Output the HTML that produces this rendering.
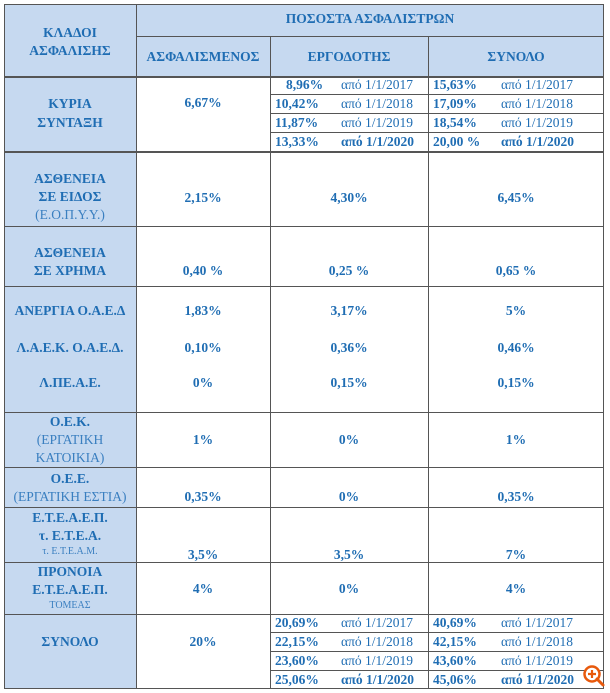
<!DOCTYPE html>
<html><head><meta charset="utf-8"><style>
body{margin:0;background:#fff;width:610px;height:693px;position:relative;overflow:hidden;font-family:"Liberation Serif","DejaVu Serif",serif;}
.f{position:absolute;background:#c6d9f0;}
.h{position:absolute;background:#555;}
.t{position:absolute;color:#1f6db3;font-weight:bold;font-size:13.5px;line-height:14px;white-space:nowrap;}
.c{text-align:center;}
.n{font-weight:normal;}
.s{font-size:10px;font-weight:normal;}
.g{color:#3a7fc0;}
</style></head><body>
<div class="f" style="left:4px;top:4px;width:600px;height:72px"></div>
<div class="f" style="left:4px;top:76px;width:132px;height:612px"></div>

<div class="h" style="left:4px;top:4px;width:600px;height:1px"></div>
<div class="h" style="left:136px;top:36px;width:468px;height:1px"></div>
<div class="h" style="left:4px;top:76px;width:600px;height:2px"></div>
<div class="h" style="left:270px;top:94px;width:334px;height:1px"></div>
<div class="h" style="left:270px;top:113px;width:334px;height:1px"></div>
<div class="h" style="left:270px;top:132px;width:334px;height:1px"></div>
<div class="h" style="left:4px;top:151px;width:600px;height:2px"></div>
<div class="h" style="left:4px;top:226px;width:600px;height:1px"></div>
<div class="h" style="left:4px;top:286px;width:600px;height:1px"></div>
<div class="h" style="left:4px;top:412px;width:600px;height:1px"></div>
<div class="h" style="left:4px;top:467px;width:600px;height:1px"></div>
<div class="h" style="left:4px;top:507px;width:600px;height:1px"></div>
<div class="h" style="left:4px;top:562px;width:600px;height:1px"></div>
<div class="h" style="left:4px;top:614px;width:600px;height:1px"></div>
<div class="h" style="left:270px;top:632px;width:334px;height:1px"></div>
<div class="h" style="left:270px;top:651px;width:334px;height:1px"></div>
<div class="h" style="left:270px;top:670px;width:334px;height:1px"></div>
<div class="h" style="left:4px;top:688px;width:600px;height:1px"></div>
<div class="h" style="left:4px;top:4px;width:1px;height:685px"></div>
<div class="h" style="left:136px;top:4px;width:1px;height:685px"></div>
<div class="h" style="left:270px;top:36px;width:1px;height:653px"></div>
<div class="h" style="left:428px;top:36px;width:1px;height:653px"></div>
<div class="h" style="left:603px;top:4px;width:1px;height:685px"></div>

<div class="t c" style="left:136px;top:12px;width:468px">ΠΟΣΟΣΤΑ ΑΣΦΑΛΙΣΤΡΩΝ</div>
<div class="t c" style="left:4px;top:26px;width:132px">ΚΛΑΔΟΙ</div>
<div class="t c" style="left:4px;top:44px;width:132px">ΑΣΦΑΛΙΣΗΣ</div>
<div class="t c" style="left:136px;top:50px;width:134px">ΑΣΦΑΛΙΣΜΕΝΟΣ</div>
<div class="t c" style="left:270px;top:50px;width:158px">ΕΡΓΟΔΟΤΗΣ</div>
<div class="t c" style="left:428px;top:50px;width:176px">ΣΥΝΟΛΟ</div>

<div class="t c" style="left:4px;top:97px;width:132px">ΚΥΡΙΑ</div>
<div class="t c" style="left:4px;top:116px;width:132px">ΣΥΝΤΑΞΗ</div>
<div class="t c" style="left:136px;top:96px;width:134px">6,67%</div>
<div class="t" style="left:286px;top:78px">8,96%</div><div class="t n" style="left:341px;top:78px">από 1/1/2017</div>
<div class="t" style="left:275px;top:97px">10,42%</div><div class="t n" style="left:341px;top:97px">από 1/1/2018</div>
<div class="t" style="left:275px;top:116px">11,87%</div><div class="t n" style="left:341px;top:116px">από 1/1/2019</div>
<div class="t" style="left:275px;top:135px">13,33%</div><div class="t" style="left:341px;top:135px">από 1/1/2020</div>
<div class="t" style="left:433px;top:78px">15,63%</div><div class="t n" style="left:501px;top:78px">από 1/1/2017</div>
<div class="t" style="left:433px;top:97px">17,09%</div><div class="t n" style="left:501px;top:97px">από 1/1/2018</div>
<div class="t" style="left:433px;top:116px">18,54%</div><div class="t n" style="left:501px;top:116px">από 1/1/2019</div>
<div class="t" style="left:433px;top:135px">20,00 %</div><div class="t" style="left:501px;top:135px">από 1/1/2020</div>

<div class="t c" style="left:4px;top:172px;width:132px">ΑΣΘΕΝΕΙΑ</div>
<div class="t c" style="left:4px;top:190px;width:132px">ΣΕ ΕΙΔΟΣ</div>
<div class="t c n g" style="left:4px;top:208px;width:132px">(Ε.Ο.Π.Υ.Υ.)</div>
<div class="t c" style="left:136px;top:191px;width:134px">2,15%</div>
<div class="t c" style="left:270px;top:191px;width:158px">4,30%</div>
<div class="t c" style="left:428px;top:191px;width:176px">6,45%</div>

<div class="t c" style="left:4px;top:246px;width:132px">ΑΣΘΕΝΕΙΑ</div>
<div class="t c" style="left:4px;top:264px;width:132px">ΣΕ ΧΡΗΜΑ</div>
<div class="t c" style="left:136px;top:264px;width:134px">0,40 %</div>
<div class="t c" style="left:270px;top:264px;width:158px">0,25 %</div>
<div class="t c" style="left:428px;top:264px;width:176px">0,65 %</div>

<div class="t c" style="left:4px;top:304px;width:132px">ΑΝΕΡΓΙΑ Ο.Α.Ε.Δ</div>
<div class="t c" style="left:136px;top:304px;width:134px">1,83%</div>
<div class="t c" style="left:270px;top:304px;width:158px">3,17%</div>
<div class="t c" style="left:428px;top:304px;width:176px">5%</div>
<div class="t c" style="left:4px;top:341px;width:132px">Λ.Α.Ε.Κ. Ο.Α.Ε.Δ.</div>
<div class="t c" style="left:136px;top:341px;width:134px">0,10%</div>
<div class="t c" style="left:270px;top:341px;width:158px">0,36%</div>
<div class="t c" style="left:428px;top:341px;width:176px">0,46%</div>
<div class="t c" style="left:4px;top:376px;width:132px">Λ.ΠΕ.Α.Ε.</div>
<div class="t c" style="left:136px;top:376px;width:134px">0%</div>
<div class="t c" style="left:270px;top:376px;width:158px">0,15%</div>
<div class="t c" style="left:428px;top:376px;width:176px">0,15%</div>

<div class="t c" style="left:4px;top:415px;width:132px">Ο.Ε.Κ.</div>
<div class="t c n g" style="left:4px;top:433px;width:132px">(ΕΡΓΑΤΙΚΗ</div>
<div class="t c n g" style="left:4px;top:451px;width:132px">ΚΑΤΟΙΚΙΑ)</div>
<div class="t c" style="left:136px;top:433px;width:134px">1%</div>
<div class="t c" style="left:270px;top:433px;width:158px">0%</div>
<div class="t c" style="left:428px;top:433px;width:176px">1%</div>

<div class="t c" style="left:4px;top:472px;width:132px">Ο.Ε.Ε.</div>
<div class="t c n g" style="left:4px;top:490px;width:132px">(ΕΡΓΑΤΙΚΗ ΕΣΤΙΑ)</div>
<div class="t c" style="left:136px;top:490px;width:134px">0,35%</div>
<div class="t c" style="left:270px;top:490px;width:158px">0%</div>
<div class="t c" style="left:428px;top:490px;width:176px">0,35%</div>

<div class="t c" style="left:4px;top:511px;width:132px">Ε.Τ.Ε.Α.Ε.Π.</div>
<div class="t c" style="left:4px;top:529px;width:132px">τ. Ε.Τ.Ε.Α.</div>
<div class="t c s g" style="left:4px;top:545px;width:132px">τ. Ε.Τ.Ε.Α.Μ.</div>
<div class="t c" style="left:136px;top:548px;width:134px">3,5%</div>
<div class="t c" style="left:270px;top:548px;width:158px">3,5%</div>
<div class="t c" style="left:428px;top:548px;width:176px">7%</div>

<div class="t c" style="left:4px;top:565px;width:132px">ΠΡΟΝΟΙΑ</div>
<div class="t c" style="left:4px;top:583px;width:132px">Ε.Τ.Ε.Α.Ε.Π.</div>
<div class="t c s g" style="left:4px;top:599px;width:132px">ΤΟΜΕΑΣ</div>
<div class="t c" style="left:136px;top:582px;width:134px">4%</div>
<div class="t c" style="left:270px;top:582px;width:158px">0%</div>
<div class="t c" style="left:428px;top:582px;width:176px">4%</div>

<div class="t c" style="left:4px;top:635px;width:132px">ΣΥΝΟΛΟ</div>
<div class="t c" style="left:136px;top:635px;width:134px">20%</div>
<div class="t" style="left:275px;top:616px">20,69%</div><div class="t n" style="left:341px;top:616px">από 1/1/2017</div>
<div class="t" style="left:275px;top:635px">22,15%</div><div class="t n" style="left:341px;top:635px">από 1/1/2018</div>
<div class="t" style="left:275px;top:654px">23,60%</div><div class="t n" style="left:341px;top:654px">από 1/1/2019</div>
<div class="t" style="left:275px;top:673px">25,06%</div><div class="t" style="left:341px;top:673px">από 1/1/2020</div>
<div class="t" style="left:433px;top:616px">40,69%</div><div class="t n" style="left:501px;top:616px">από 1/1/2017</div>
<div class="t" style="left:433px;top:635px">42,15%</div><div class="t n" style="left:501px;top:635px">από 1/1/2018</div>
<div class="t" style="left:433px;top:654px">43,60%</div><div class="t n" style="left:501px;top:654px">από 1/1/2019</div>
<div class="t" style="left:433px;top:673px">45,06%</div><div class="t" style="left:501px;top:673px">από 1/1/2020</div>

<svg style="position:absolute;left:582px;top:664px" width="24" height="26"><circle cx="10" cy="10" r="7.5" fill="#fff" stroke="#e8590c" stroke-width="2.5"/><path d="M10 6v8M6 10h8" stroke="#e8590c" stroke-width="2.2"/><path d="M15 15l6 6" stroke="#e8590c" stroke-width="3" stroke-linecap="round"/></svg>
</body></html>
